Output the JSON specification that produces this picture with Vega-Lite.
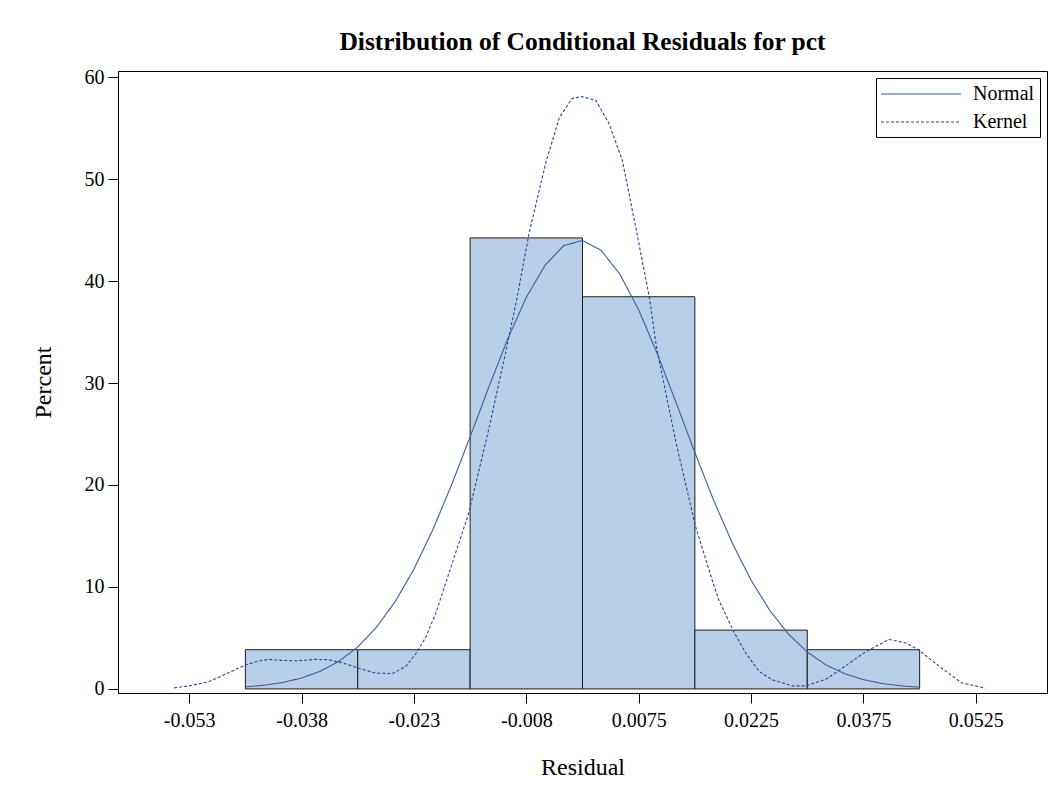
{
  "$schema": "https://vega.github.io/schema/vega-lite/v6.json",
  "width": 929,
  "height": 622,
  "autosize": "none",
  "padding": {"left": 118, "top": 71, "right": 12, "bottom": 104},
  "background": "white",
  "title": {
    "text": "Distribution of Conditional Residuals for pct",
    "font": "Liberation Serif",
    "fontSize": 25.5,
    "fontWeight": "bold",
    "color": "black",
    "anchor": "middle",
    "offset": 12
  },
  "config": {
    "view": {"stroke": "black", "strokeWidth": 1},
    "axis": {
      "grid": false,
      "domainColor": "black",
      "tickColor": "black",
      "tickSize": 10,
      "labelFont": "Liberation Serif",
      "labelFontSize": 20,
      "labelColor": "black",
      "titleFont": "Liberation Serif",
      "titleFontSize": 24,
      "titleFontWeight": "normal",
      "titleColor": "black"
    },
    "legend": {
      "labelFont": "Liberation Serif",
      "labelFontSize": 20,
      "labelColor": "black"
    }
  },
  "datasets": {
    "bins": [
      {"lo": -0.045, "hi": -0.03, "percent": 3.846},
      {"lo": -0.03, "hi": -0.015, "percent": 3.846},
      {"lo": -0.015, "hi": 0.0, "percent": 44.231},
      {"lo": 0.0, "hi": 0.015, "percent": 38.462},
      {"lo": 0.015, "hi": 0.03, "percent": 5.769},
      {"lo": 0.03, "hi": 0.045, "percent": 3.846}
    ],
    "curves": [
      {"series": "Normal", "x": -0.045, "pct": 0.20},
      {"series": "Normal", "x": -0.0425, "pct": 0.36},
      {"series": "Normal", "x": -0.04, "pct": 0.63},
      {"series": "Normal", "x": -0.0375, "pct": 1.07},
      {"series": "Normal", "x": -0.035, "pct": 1.73},
      {"series": "Normal", "x": -0.0325, "pct": 2.71},
      {"series": "Normal", "x": -0.03, "pct": 4.12},
      {"series": "Normal", "x": -0.0275, "pct": 6.05},
      {"series": "Normal", "x": -0.025, "pct": 8.57},
      {"series": "Normal", "x": -0.0225, "pct": 11.75},
      {"series": "Normal", "x": -0.02, "pct": 15.58},
      {"series": "Normal", "x": -0.0175, "pct": 19.97},
      {"series": "Normal", "x": -0.015, "pct": 24.72},
      {"series": "Normal", "x": -0.0125, "pct": 29.61},
      {"series": "Normal", "x": -0.01, "pct": 34.29},
      {"series": "Normal", "x": -0.0075, "pct": 38.40},
      {"series": "Normal", "x": -0.005, "pct": 41.55},
      {"series": "Normal", "x": -0.0025, "pct": 43.48},
      {"series": "Normal", "x": 0.0, "pct": 43.98},
      {"series": "Normal", "x": 0.0025, "pct": 43.01},
      {"series": "Normal", "x": 0.005, "pct": 40.66},
      {"series": "Normal", "x": 0.0075, "pct": 37.17},
      {"series": "Normal", "x": 0.01, "pct": 32.85},
      {"series": "Normal", "x": 0.0125, "pct": 28.06},
      {"series": "Normal", "x": 0.015, "pct": 23.18},
      {"series": "Normal", "x": 0.0175, "pct": 18.51},
      {"series": "Normal", "x": 0.02, "pct": 14.29},
      {"series": "Normal", "x": 0.0225, "pct": 10.66},
      {"series": "Normal", "x": 0.025, "pct": 7.69},
      {"series": "Normal", "x": 0.0275, "pct": 5.37},
      {"series": "Normal", "x": 0.03, "pct": 3.62},
      {"series": "Normal", "x": 0.0325, "pct": 2.36},
      {"series": "Normal", "x": 0.035, "pct": 1.49},
      {"series": "Normal", "x": 0.0375, "pct": 0.91},
      {"series": "Normal", "x": 0.04, "pct": 0.53},
      {"series": "Normal", "x": 0.0425, "pct": 0.30},
      {"series": "Normal", "x": 0.045, "pct": 0.17},
      {"series": "Kernel", "x": -0.0545, "pct": 0.1},
      {"series": "Kernel", "x": -0.0525, "pct": 0.3},
      {"series": "Kernel", "x": -0.0499, "pct": 0.7},
      {"series": "Kernel", "x": -0.0472, "pct": 1.6},
      {"series": "Kernel", "x": -0.045, "pct": 2.35},
      {"series": "Kernel", "x": -0.0432, "pct": 2.75},
      {"series": "Kernel", "x": -0.0418, "pct": 2.9},
      {"series": "Kernel", "x": -0.0401, "pct": 2.8},
      {"series": "Kernel", "x": -0.0382, "pct": 2.75},
      {"series": "Kernel", "x": -0.0356, "pct": 2.9},
      {"series": "Kernel", "x": -0.0338, "pct": 2.85},
      {"series": "Kernel", "x": -0.0318, "pct": 2.5},
      {"series": "Kernel", "x": -0.0298, "pct": 2.0},
      {"series": "Kernel", "x": -0.0276, "pct": 1.55},
      {"series": "Kernel", "x": -0.0254, "pct": 1.5},
      {"series": "Kernel", "x": -0.0236, "pct": 2.2},
      {"series": "Kernel", "x": -0.0222, "pct": 3.5},
      {"series": "Kernel", "x": -0.0209, "pct": 5.1},
      {"series": "Kernel", "x": -0.0196, "pct": 7.4},
      {"series": "Kernel", "x": -0.0174, "pct": 12.3},
      {"series": "Kernel", "x": -0.0152, "pct": 17.2},
      {"series": "Kernel", "x": -0.0125, "pct": 25.5},
      {"series": "Kernel", "x": -0.0102, "pct": 33.2},
      {"series": "Kernel", "x": -0.0087, "pct": 38.5},
      {"series": "Kernel", "x": -0.0071, "pct": 44.8},
      {"series": "Kernel", "x": -0.0049, "pct": 51.6},
      {"series": "Kernel", "x": -0.0031, "pct": 56.0},
      {"series": "Kernel", "x": -0.0014, "pct": 57.9},
      {"series": "Kernel", "x": -0.0001, "pct": 58.1},
      {"series": "Kernel", "x": 0.0018, "pct": 57.7},
      {"series": "Kernel", "x": 0.0035, "pct": 55.5},
      {"series": "Kernel", "x": 0.0053, "pct": 51.9},
      {"series": "Kernel", "x": 0.0071, "pct": 45.3},
      {"series": "Kernel", "x": 0.0089, "pct": 38.5},
      {"series": "Kernel", "x": 0.0099, "pct": 33.4},
      {"series": "Kernel", "x": 0.0125, "pct": 24.1},
      {"series": "Kernel", "x": 0.0151, "pct": 15.9},
      {"series": "Kernel", "x": 0.0173, "pct": 10.7},
      {"series": "Kernel", "x": 0.0182, "pct": 8.7},
      {"series": "Kernel", "x": 0.0202, "pct": 5.6},
      {"series": "Kernel", "x": 0.0218, "pct": 3.5},
      {"series": "Kernel", "x": 0.0236, "pct": 1.7},
      {"series": "Kernel", "x": 0.0253, "pct": 0.9},
      {"series": "Kernel", "x": 0.028, "pct": 0.3},
      {"series": "Kernel", "x": 0.0298, "pct": 0.3},
      {"series": "Kernel", "x": 0.0325, "pct": 0.95},
      {"series": "Kernel", "x": 0.0346, "pct": 2.0},
      {"series": "Kernel", "x": 0.0378, "pct": 3.65},
      {"series": "Kernel", "x": 0.0409, "pct": 4.85},
      {"series": "Kernel", "x": 0.0432, "pct": 4.5},
      {"series": "Kernel", "x": 0.0449, "pct": 3.8},
      {"series": "Kernel", "x": 0.048, "pct": 2.0},
      {"series": "Kernel", "x": 0.0506, "pct": 0.6},
      {"series": "Kernel", "x": 0.0538, "pct": 0.07}
    ]
  },
  "layer": [
    {
      "data": {"name": "bins"},
      "mark": {"type": "rect", "fill": "#B8CEE6", "stroke": "#1e1e1e", "strokeWidth": 1},
      "encoding": {
        "x": {
          "field": "lo",
          "type": "quantitative",
          "scale": {"domain": [-0.062, 0.062], "nice": false, "zero": false},
          "axis": {
            "title": "Residual",
            "values": [-0.0525, -0.0375, -0.0225, -0.0075, 0.0075, 0.0225, 0.0375, 0.0525],
            "labelExpr": "datum.value < -0.05 ? '-0.053' : datum.value < -0.03 ? '-0.038' : datum.value < -0.02 ? '-0.023' : datum.value < 0 ? '-0.008' : format(datum.value, '.4~f')",
            "labelPadding": 7,
            "titlePadding": 25
          }
        },
        "x2": {"field": "hi"},
        "y": {
          "field": "percent",
          "type": "quantitative",
          "scale": {"domain": [-0.4, 60.6], "nice": false, "zero": false},
          "axis": {
            "title": "Percent",
            "values": [0, 10, 20, 30, 40, 50, 60],
            "labelPadding": 4,
            "titlePadding": 29
          }
        },
        "y2": {"datum": 0}
      }
    },
    {
      "data": {"name": "curves"},
      "mark": {"type": "line", "strokeWidth": 1.1, "interpolate": "linear"},
      "encoding": {
        "x": {"field": "x", "type": "quantitative"},
        "y": {"field": "pct", "type": "quantitative"},
        "detail": {"field": "series"},
        "color": {
          "field": "series",
          "type": "nominal",
          "scale": {"domain": ["Normal", "Kernel"], "range": ["#3a5d9f", "#1f4b9b"]},
          "legend": {
            "title": null,
            "orient": "top-right",
            "offset": 7,
            "padding": 5,
            "fillColor": "white",
            "strokeColor": "black",
            "symbolType": "M-4,0H4",
            "symbolSize": 400,
            "symbolOffset": 29,
            "symbolStrokeWidth": 1.2,
            "labelOffset": 41,
            "rowPadding": 7
          }
        },
        "strokeDash": {
          "field": "series",
          "type": "nominal",
          "scale": {"domain": ["Normal", "Kernel"], "range": [[1, 0], [3, 2]]},
          "legend": null
        }
      }
    }
  ]
}
